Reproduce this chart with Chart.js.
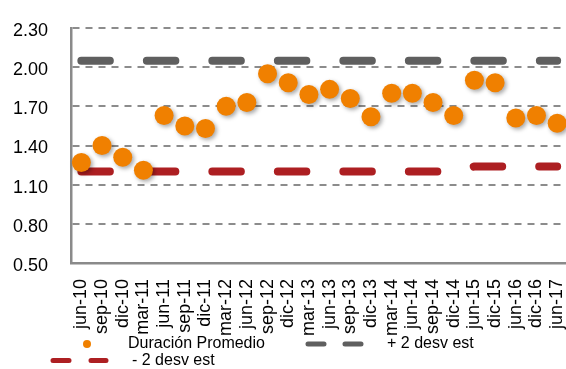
<!DOCTYPE html>
<html>
<head>
<meta charset="utf-8">
<script src="https://cdn.jsdelivr.net/npm/chart.js@4.4.1/dist/chart.umd.min.js"></script>
<style>
  body{ margin:0; background:#fff; }
  /* canvas is a bit wider than the view: chart.js keeps ~11px on the right for the last rotated label */
  #wrap{ position:relative; width:566px; height:369px; overflow:hidden; }
</style>
</head>
<body>
<div id="wrap"><canvas id="myChart" width="577" height="369"></canvas></div>
<script>
const labels = ['jun-10','sep-10','dic-10','mar-11','jun-11','sep-11','dic-11','mar-12','jun-12','sep-12','dic-12','mar-13',
                'jun-13','sep-13','dic-13','mar-14','jun-14','sep-14','dic-14','jun-15','dic-15','jun-16','dic-16','jun-17'];
const duracion = [1.27,1.40,1.31,1.21,1.63,1.55,1.53,1.70,1.73,1.95,1.88,1.79,
                  1.83,1.76,1.62,1.80,1.80,1.73,1.63,1.90,1.88,1.61,1.63,1.57];
const masDesv = [2.05,2.05,2.05,2.05,2.05,2.05,2.05,2.05,2.05,2.05,2.05,2.05,
                 2.05,2.05,2.05,2.05,2.05,2.05,2.05,2.05,2.05,2.05,2.05,2.05];
const menosDesv = [1.20,1.20,1.20,1.20,1.20,1.20,1.20,1.20,1.20,1.20,1.20,1.20,
                   1.20,1.20,1.20,1.20,1.20,1.20,1.20,1.24,1.24,1.24,1.24,1.24];
const yTicks = [0.50,0.80,1.10,1.40,1.70,2.00,2.30];

const FONT = '"Liberation Sans", Arial, sans-serif';

//soft shadow under the dots
const dotShadow = {
    id: 'dotShadow',
    beforeDatasetDraw(chart, args){
        if(args.index != 0) return;
        const ctx = chart.ctx;
        ctx.save();
        ctx.shadowColor = 'rgba(0,0,0,0.35)';
        ctx.shadowBlur = 4;
        ctx.shadowOffsetX = 2;
        ctx.shadowOffsetY = 2;
    },
    afterDatasetDraw(chart, args){
        if(args.index != 0) return;
        chart.ctx.restore();
    }
};

//legend laid out like the excel one (two columns, two rows)
const customLegend = {
    id: 'customLegend',
    afterDraw(chart){
        const ctx = chart.ctx;
        const ds = chart.data.datasets;
        ctx.save();
        ctx.font = '16px ' + FONT;
        ctx.fillStyle = '#000';
        ctx.textBaseline = 'middle';
        ctx.textAlign = 'left';

        //dot
        ctx.beginPath();
        ctx.fillStyle = ds[0].backgroundColor;
        ctx.arc(87, 344, 4, 0, Math.PI*2);
        ctx.fill();
        ctx.fillStyle = '#000';
        ctx.fillText(ds[0].label, 128, 344);

        //dashes
        ctx.lineCap = 'round';
        ctx.lineWidth = 5;
        ctx.strokeStyle = ds[1].borderColor;
        ctx.beginPath();
        ctx.moveTo(308, 344); ctx.lineTo(324, 344);
        ctx.moveTo(345, 344); ctx.lineTo(361, 344);
        ctx.stroke();
        ctx.fillText(ds[1].label, 387, 344);

        ctx.strokeStyle = ds[2].borderColor;
        ctx.beginPath();
        ctx.moveTo(53, 360.5); ctx.lineTo(69, 360.5);
        ctx.moveTo(91, 360.5); ctx.lineTo(106, 360.5);
        ctx.stroke();
        ctx.fillText(ds[2].label, 132, 361);
        ctx.restore();
    }
};

const data = {
    labels: labels,
    datasets: [{
        label: 'Duración Promedio',
        data: duracion,
        showLine: false,
        backgroundColor: '#f08000',
        borderColor: '#f08000',
        pointRadius: 9.5,
        pointBorderWidth: 0,
        order: 0
    },{
        label: '+ 2 desv est',
        data: masDesv,
        borderColor: '#5f5f5f',
        borderWidth: 8,
        borderCapStyle: 'round',
        borderDash: [28.5, 37],
        pointRadius: 0,
        order: 1
    },{
        label: '- 2 desv est',
        data: menosDesv,
        borderColor: '#ad1f22',
        borderWidth: 8,
        borderCapStyle: 'round',
        borderDash: [28.5, 37],
        pointRadius: 0,
        order: 1
    }]
};

const config = {
    type: 'line',
    data,
    options: {
        responsive: false,
        animation: false,
        layout: { padding: { top: 28, right: 0, bottom: 0, left: 0 } },
        plugins: { legend: { display: false }, tooltip: { enabled: false } },
        scales: {
            x: {
                offset: true,
                grid: { display: false },
                border: { display: true, color: '#8a8a8a', width: 2.5 },
                ticks: {
                    autoSkip: false, maxRotation: 90, minRotation: 90,
                    padding: 8, color: '#000',
                    font: { family: FONT, size: 18 }
                },
                afterFit(scale){
                    scale.height = 106;
                    scale.paddingLeft = 0;
                    scale.paddingRight = 0;
                }
            },
            y: {
                min: 0.5, max: 2.3,
                afterBuildTicks(scale){ scale.ticks = yTicks.map(v => ({ value: v })); },
                grid: { color: '#8c8c8c', lineWidth: 2, drawTicks: false },
                border: { display: true, color: '#8a8a8a', width: 2.5, dash: [7, 6] },
                ticks: {
                    padding: 23, color: '#000', labelOffset: 3,
                    font: { family: FONT, size: 18 },
                    callback: v => v.toFixed(2)
                },
                afterFit(scale){
                    scale.width = 71;
                    scale.paddingTop = 0;
                    scale.paddingBottom = 0;
                }
            }
        }
    },
    plugins: [dotShadow, customLegend]
};

var myChart = new Chart(document.getElementById('myChart').getContext('2d'), config);
</script>
</body>
</html>
